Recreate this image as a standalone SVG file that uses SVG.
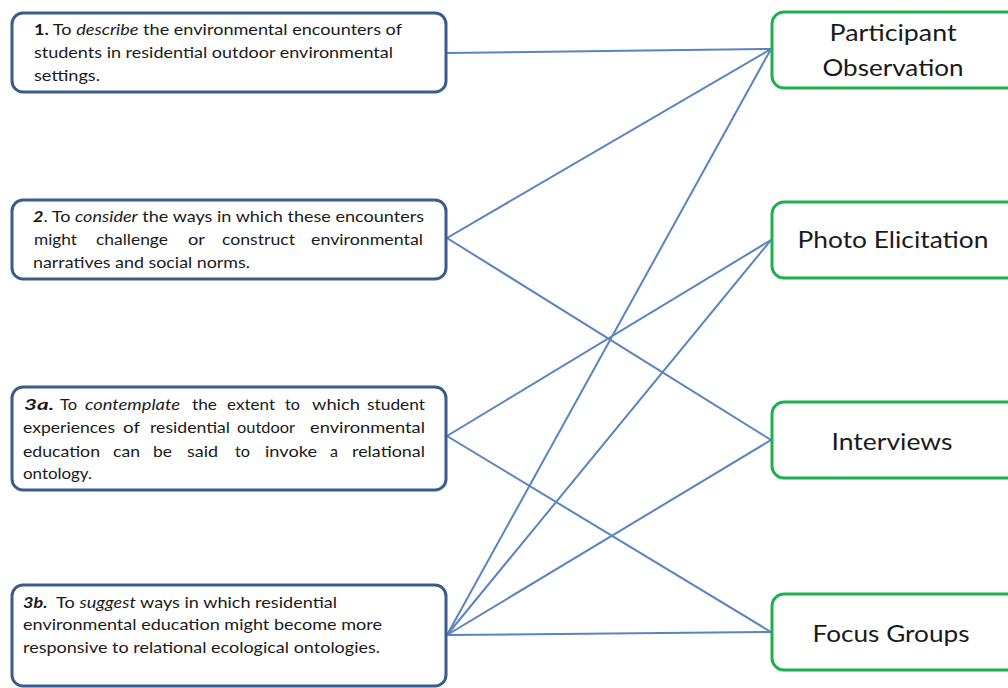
<svg xmlns="http://www.w3.org/2000/svg" width="1008" height="688" viewBox="0 0 1008 688">
<style>
.obj{fill:#fff;stroke:#3a5c8b;stroke-width:3}
.meth{fill:#fff;stroke:#1db04f;stroke-width:3}
.t{font-family:Lato,"Open Sans","Liberation Sans",sans-serif;font-size:16px;fill:#1a1a1a}
.m{font-family:Lato,"Open Sans","Liberation Sans",sans-serif;font-size:24px;fill:#1a1a1a;text-anchor:middle}
.c line{stroke:#5a83c0;stroke-width:2}
.b{font-weight:bold}
.i{font-style:italic}
</style>
<rect width="1008" height="688" fill="#fff"/>
<g class="c" id="connectors">
<line x1="447" y1="53" x2="771" y2="49"/>
<line x1="447" y1="238" x2="771" y2="49"/>
<line x1="447" y1="238" x2="771" y2="440"/>
<line x1="447" y1="436" x2="771" y2="240"/>
<line x1="447" y1="436" x2="771" y2="632"/>
<line x1="447" y1="635" x2="771" y2="49"/>
<line x1="447" y1="635" x2="771" y2="240"/>
<line x1="447" y1="635" x2="771" y2="440"/>
<line x1="447" y1="635" x2="771" y2="632"/>
</g>
<g id="obj1">
<rect class="obj" x="12" y="13" width="434" height="79" rx="11"/>
<text class="t" x="34" y="35" textLength="368" lengthAdjust="spacingAndGlyphs"><tspan class="b">1.</tspan> To <tspan class="i">describe</tspan> the environmental encounters of</text>
<text class="t" x="34" y="58" textLength="359" lengthAdjust="spacingAndGlyphs">students in residential outdoor environmental</text>
<text class="t" x="34" y="81" textLength="66" lengthAdjust="spacingAndGlyphs">settings.</text>
</g>
<g id="obj2">
<rect class="obj" x="12" y="200" width="434" height="79" rx="11"/>
<text class="t" x="33" y="222" textLength="391" lengthAdjust="spacingAndGlyphs"><tspan class="b i">2</tspan>. To <tspan class="i">consider</tspan> the ways in which these encounters</text>
<text class="t" y="245" x="34" textLength="43" lengthAdjust="spacingAndGlyphs">might</text>
<text class="t" y="245" x="96" textLength="72" lengthAdjust="spacingAndGlyphs">challenge</text>
<text class="t" y="245" x="188" textLength="17" lengthAdjust="spacingAndGlyphs">or</text>
<text class="t" y="245" x="222" textLength="73" lengthAdjust="spacingAndGlyphs">construct</text>
<text class="t" y="245" x="311" textLength="112" lengthAdjust="spacingAndGlyphs">environmental</text>
<text class="t" x="33" y="268" textLength="217" lengthAdjust="spacingAndGlyphs">narratives and social norms.</text>
</g>
<g id="obj3a">
<rect class="obj" x="12" y="387" width="434" height="103" rx="11"/>
<text class="t b i" y="410" x="24" textLength="30" lengthAdjust="spacingAndGlyphs">3a.</text>
<text class="t" y="410" x="60" textLength="17" lengthAdjust="spacingAndGlyphs">To</text>
<text class="t i" y="410" x="85" textLength="95" lengthAdjust="spacingAndGlyphs">contemplate</text>
<text class="t" y="410" x="192" textLength="25" lengthAdjust="spacingAndGlyphs">the</text>
<text class="t" y="410" x="227" textLength="48" lengthAdjust="spacingAndGlyphs">extent</text>
<text class="t" y="410" x="285" textLength="15" lengthAdjust="spacingAndGlyphs">to</text>
<text class="t" y="410" x="312" textLength="48" lengthAdjust="spacingAndGlyphs">which</text>
<text class="t" y="410" x="367" textLength="58" lengthAdjust="spacingAndGlyphs">student</text>
<text class="t" y="433" x="23" textLength="92" lengthAdjust="spacingAndGlyphs">experiences</text>
<text class="t" y="433" x="123" textLength="17" lengthAdjust="spacingAndGlyphs">of</text>
<text class="t" y="433" x="150" textLength="80" lengthAdjust="spacingAndGlyphs">residential</text>
<text class="t" y="433" x="237" textLength="58" lengthAdjust="spacingAndGlyphs">outdoor</text>
<text class="t" y="433" x="310" textLength="115" lengthAdjust="spacingAndGlyphs">environmental</text>
<text class="t" y="457" x="23" textLength="77" lengthAdjust="spacingAndGlyphs">education</text>
<text class="t" y="457" x="113" textLength="27" lengthAdjust="spacingAndGlyphs">can</text>
<text class="t" y="457" x="153" textLength="19" lengthAdjust="spacingAndGlyphs">be</text>
<text class="t" y="457" x="187" textLength="31" lengthAdjust="spacingAndGlyphs">said</text>
<text class="t" y="457" x="235" textLength="15" lengthAdjust="spacingAndGlyphs">to</text>
<text class="t" y="457" x="265" textLength="52" lengthAdjust="spacingAndGlyphs">invoke</text>
<text class="t" y="457" x="330" textLength="8" lengthAdjust="spacingAndGlyphs">a</text>
<text class="t" y="457" x="352" textLength="73" lengthAdjust="spacingAndGlyphs">relational</text>
<text class="t" x="23" y="479" textLength="69" lengthAdjust="spacingAndGlyphs">ontology.</text>
</g>
<g id="obj3b">
<rect class="obj" x="12" y="585" width="434" height="101" rx="11"/>
<text class="t" x="23" y="608" textLength="314" lengthAdjust="spacingAndGlyphs"><tspan class="b i">3b.</tspan> <tspan dx="4">To</tspan> <tspan class="i">suggest</tspan> ways in which residential</text>
<text class="t" x="23" y="630" textLength="359" lengthAdjust="spacingAndGlyphs">environmental education might become more</text>
<text class="t" x="23" y="653" textLength="357" lengthAdjust="spacingAndGlyphs">responsive to relational ecological ontologies.</text>
</g>
<g id="participant-observation">
<rect class="meth" x="772" y="12" width="250" height="76" rx="12"/>
<text class="m" x="893" y="41" textLength="127" lengthAdjust="spacingAndGlyphs">Participant</text>
<text class="m" x="893" y="76" textLength="141" lengthAdjust="spacingAndGlyphs">Observation</text>
</g>
<g id="photo-elicitation">
<rect class="meth" x="772" y="202" width="250" height="76" rx="12"/>
<text class="m" x="893" y="248" textLength="191" lengthAdjust="spacingAndGlyphs">Photo Elicitation</text>
</g>
<g id="interviews">
<rect class="meth" x="772" y="402" width="250" height="76" rx="12"/>
<text class="m" x="892" y="450" textLength="121" lengthAdjust="spacingAndGlyphs">Interviews</text>
</g>
<g id="focus-groups">
<rect class="meth" x="772" y="594" width="250" height="76" rx="12"/>
<text class="m" x="891" y="642" textLength="157" lengthAdjust="spacingAndGlyphs">Focus Groups</text>
</g>
</svg>
